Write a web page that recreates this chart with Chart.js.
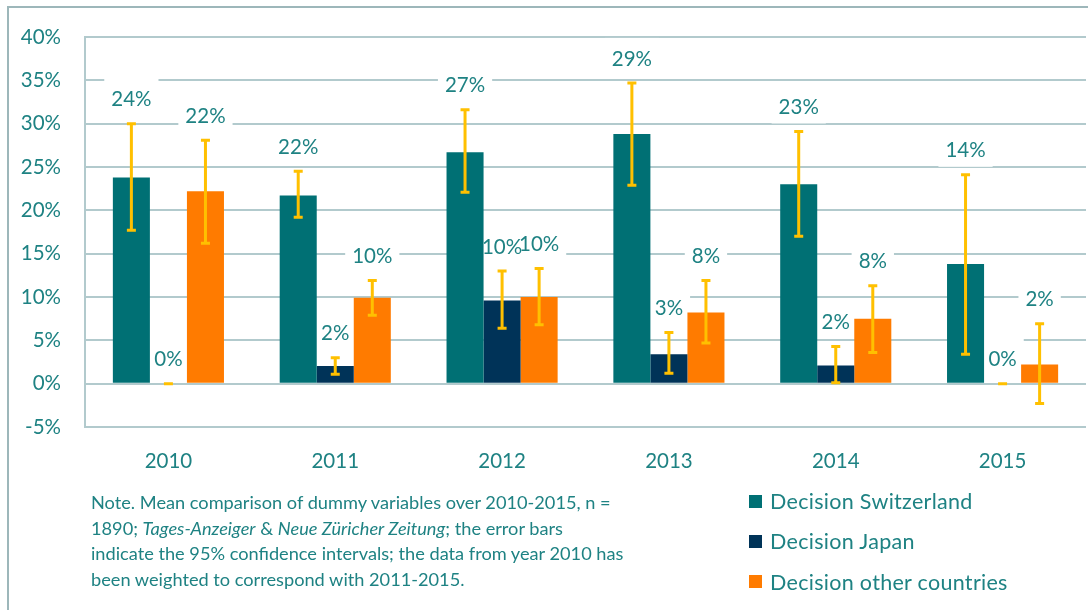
<!DOCTYPE html>
<html>
<head>
<meta charset="utf-8">
<script src="https://cdn.jsdelivr.net/npm/chart.js@4.4.1/dist/chart.umd.min.js"></script>
<style>
  html, body { margin: 0; padding: 0; background: #fff; }
  body { width: 1088px; height: 610px; position: relative; overflow: hidden; font-family: Lato, "Open Sans", sans-serif; }
  #cadre { position: absolute; left: 7px; top: 6px; width: 1200px; height: 700px; border-left: 2px solid #9db7ba; border-top: 2px solid #9db7ba; }
  #graphe { position: absolute; left: 0; top: 0; }
  #note { position: absolute; left: 91px; top: 490px; font-size: 18.2px; line-height: 25.7px; color: #1e8283; white-space: nowrap; }
  #legende { position: absolute; left: 749px; top: 481px; }
  .item { height: 40.3px; display: flex; align-items: center; font-size: 21.5px; letter-spacing: 0.3px; color: #1e8283; white-space: nowrap; }
  .item span.carre { display: inline-block; width: 13px; height: 13px; margin-right: 8px; }
</style>
</head>
<body>
<div id="cadre"></div>
<canvas id="graphe" width="1088" height="610"></canvas>
<div id="note">Note. Mean comparison of dummy variables over 2010-2015, n =<br>1890; <i>Tages-Anzeiger</i> &amp; <i>Neue Züricher Zeitung</i>; the error bars<br>indicate the 95% confidence intervals; the data from year 2010 has<br>been weighted to correspond with 2011-2015.</div>
<div id="legende"></div>
<script>
const annees = ['2010', '2011', '2012', '2013', '2014', '2015'];
const nomsSeries = ['Decision Switzerland', 'Decision Japan', 'Decision other countries'];

const suisse = [23.8, 21.7, 26.7, 28.8, 23.0, 13.8];
const japon = [0, 2.05, 9.6, 3.4, 2.1, 0];
const autres = [22.2, 9.9, 10.0, 8.2, 7.5, 2.2];

// intervalles de confiance 95 %
const suisseBas = [17.7, 19.2, 22.1, 22.9, 17.0, 3.4];
const suisseHaut = [30.0, 24.5, 31.6, 34.7, 29.1, 24.1];
const japonBas = [0, 1.1, 6.4, 1.2, 0.1, 0];
const japonHaut = [0, 3.0, 13.0, 5.9, 4.3, 0];
const autresBas = [16.2, 7.9, 6.8, 4.7, 3.6, -2.3];
const autresHaut = [28.1, 11.9, 13.3, 11.9, 11.3, 6.9];

const graduations = [-5, 0, 5, 10, 15, 20, 25, 30, 35, 40];

const couleurs = ['#007074', '#003358', '#ff7b00'];
const couleurTexte = '#1e8283';
const couleurGrille = '#b2cacd';
const couleurErreur = '#ffc000';
const police = 'Lato, "Open Sans", sans-serif';

const bas = [suisseBas, japonBas, autresBas];
const haut = [suisseHaut, japonHaut, autresHaut];

function posEtiquette(chart, i, j) {
    const el = chart.getDatasetMeta(i).data[j];
    const y = chart.scales.y.getPixelForValue(haut[i][j]) - 24;
    return { x: el.x, y: y };
}

const pluginBarres = {
    id: 'barresErreur',
    beforeDatasetsDraw(chart) {
        const ctx = chart.ctx;
        ctx.save();
        ctx.font = '20.5px ' + police;
        chart.data.datasets.forEach((ds, i) => {
            ds.data.forEach((v, j) => {
                const p = posEtiquette(chart, i, j);
                const w = ctx.measureText(Math.round(v) + '%').width + 14;
                ctx.fillStyle = '#fff';
                ctx.fillRect(p.x - w / 2, p.y - 21, w, 37);
            });
        });
        ctx.restore();
    },
    afterDatasetsDraw(chart) {
        const ctx = chart.ctx;
        const y = chart.scales.y;
        ctx.save();
        ctx.strokeStyle = couleurErreur;
        ctx.lineWidth = 3;
        chart.data.datasets.forEach((ds, i) => {
            chart.getDatasetMeta(i).data.forEach((el, j) => {
                const yh = y.getPixelForValue(haut[i][j]);
                const yb = y.getPixelForValue(bas[i][j]);
                ctx.beginPath();
                ctx.moveTo(el.x, yh);
                ctx.lineTo(el.x, yb);
                ctx.moveTo(el.x - 4.5, yh);
                ctx.lineTo(el.x + 4.5, yh);
                ctx.moveTo(el.x - 4.5, yb);
                ctx.lineTo(el.x + 4.5, yb);
                ctx.stroke();
            });
        });
        ctx.font = '20.5px ' + police;
        ctx.fillStyle = couleurTexte;
        ctx.textAlign = 'center';
        ctx.textBaseline = 'middle';
        chart.data.datasets.forEach((ds, i) => {
            ds.data.forEach((v, j) => {
                const p = posEtiquette(chart, i, j);
                ctx.fillText(Math.round(v) + '%', p.x, p.y);
            });
        });
        ctx.restore();
    }
};

const series = [suisse, japon, autres];

new Chart(document.getElementById('graphe'), {
    type: 'bar',
    data: {
        labels: annees,
        datasets: series.map((d, i) => ({
            label: nomsSeries[i],
            data: d,
            backgroundColor: couleurs[i],
            borderWidth: 0,
            barPercentage: 1,
            categoryPercentage: 0.666
        }))
    },
    options: {
        responsive: false,
        animation: false,
        devicePixelRatio: 1,
        layout: { padding: { left: 0, right: 2, top: 37, bottom: 0 } },
        plugins: { legend: { display: false }, tooltip: { enabled: false } },
        scales: {
            x: {
                grid: { display: false },
                border: { display: false },
                ticks: { color: couleurTexte, font: { family: police, size: 20.5 }, padding: 14 },
                afterFit: s => { s.height = 183; }
            },
            y: {
                min: -5,
                max: 40,
                afterBuildTicks: s => { s.ticks = graduations.map(v => ({ value: v })); },
                grid: { color: couleurGrille, lineWidth: 2, drawTicks: false },
                border: { display: true, color: couleurGrille, width: 2 },
                ticks: {
                    color: couleurTexte,
                    font: { family: police, size: 20.5 },
                    padding: 24,
                    callback: v => v + '%'
                },
                afterFit: s => { s.width = 85; }
            }
        }
    },
    plugins: [pluginBarres]
});

const legende = document.getElementById('legende');
nomsSeries.forEach((nom, i) => {
    const item = document.createElement('div');
    item.className = 'item';
    item.innerHTML = `<span class="carre" style="background:${couleurs[i]}"></span>${nom}`;
    legende.appendChild(item);
});
</script>
</body>
</html>
